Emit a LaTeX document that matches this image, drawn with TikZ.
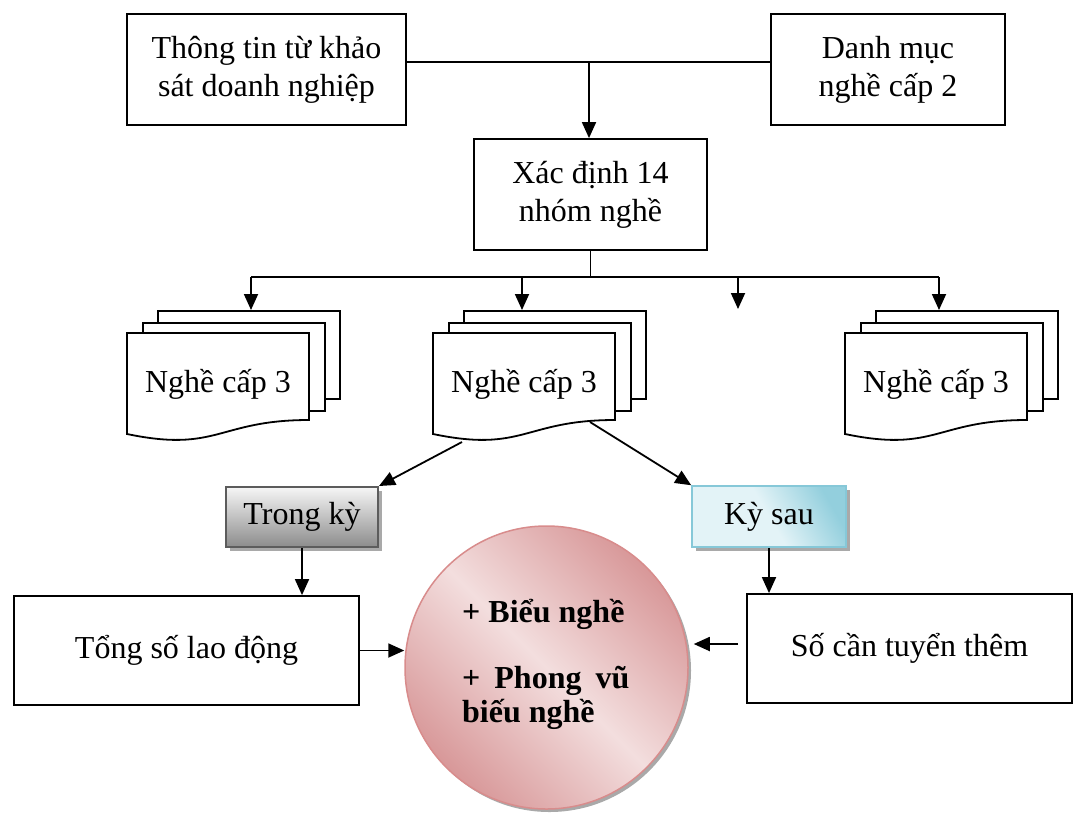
\documentclass[tikz,border=0pt]{standalone}
\usepackage{fontspec}
\setmainfont{Liberation Serif}
\usetikzlibrary{arrows.meta,calc,shadows}

\definecolor{grayedge}{HTML}{5C5C5C}
\definecolor{graytop}{HTML}{F6F6F6}
\definecolor{graybot}{HTML}{8C8C8C}
\definecolor{blueedge}{HTML}{86C8D8}
\definecolor{bluedark}{HTML}{93CFDD}
\definecolor{bluelight}{HTML}{E3F3F7}
\definecolor{roseedge}{HTML}{D88C8C}
\definecolor{rosedark}{HTML}{D89899}
\definecolor{roselight}{HTML}{F3DEDE}
\definecolor{shadowgray}{HTML}{A9A9A9}

\begin{document}
\begin{tikzpicture}[x=1pt,y=-1pt,
  every node/.style={font=\fontsize{32}{38}\selectfont},
  box/.style={draw, line width=1.8pt, inner sep=0pt, align=center},
  conn/.style={line width=1.8pt},
  arr/.style={conn, -{Triangle[length=16pt,width=14pt]}},
  page/.style={draw, fill=white, line width=1.8pt, minimum width=182pt,
    minimum height=88pt, inner sep=0pt, anchor=north west},
  tag/.style={inner sep=0pt, drop shadow={shadow xshift=4pt, shadow yshift=-4pt,
    fill=shadowgray, opacity=1}},
  bullet/.style={anchor=base west, inner sep=0pt,
    font=\fontsize{32}{38}\selectfont\bfseries},
]
\useasboundingbox (0,0) rectangle (1083,812);

% top row and the grouping box
\node[box, minimum width=279pt, minimum height=111pt] (src) at (266.5,69.5)
  {Thông tin từ khảo\\sát doanh nghiệp};
\node[box, minimum width=234pt, minimum height=111pt] (cat) at (888,69.5)
  {Danh mục\\nghề cấp 2};
\node[box, minimum width=233pt, minimum height=111pt] (grp) at (590.5,194.5)
  {Xác định 14\\nhóm nghề};

\coordinate (j1) at (589,62);
\draw[conn] (src.east |- j1) -- (cat.west |- j1);
\draw[arr] (j1) -- (j1 |- grp.north);

% branch bar
\coordinate (j2) at (590,277);
\coordinate (b1) at (251,277);
\coordinate (b2) at (522,277);
\coordinate (b3) at (738,277);
\coordinate (b4) at (939,277);
\coordinate (e3) at (738,309);
\draw[conn] (grp.south) -- (grp.south |- j2);
\draw[conn] (b1) -- (b4);

% stacked documents
\foreach \n/\x in {L/127, M/433, R/845}{
  \node[page] (\n-back) at (\x+30,310) {};
  \node[page] (\n-mid) at (\x+15,322) {};
  \draw[line width=1.8pt, fill=white] (\x,333) -- (\x+182,333) -- (\x+182,420)
    .. controls (\x+91,420) and (\x+91,453) .. (\x,434) -- cycle;
  \node[anchor=base, inner sep=0pt] (\n-front) at (\x+91,392) {Nghề cấp 3};
}

\draw[arr] (b1) -- (b1 |- L-back.north);
\draw[arr] (b2) -- (b2 |- M-back.north);
\draw[arr] (b3) -- (e3);
\draw[arr] (b4) -- (b4 |- R-back.north);

% period tags
\node[tag, draw=grayedge, line width=2pt, top color=graytop, bottom color=graybot,
  minimum width=152pt, minimum height=60pt] (now) at (302,517) {Trong kỳ};
\node[tag, draw=blueedge, line width=1.5pt, top color=bluedark, bottom color=bluelight,
  middle color=bluelight, shading angle=-60,
  minimum width=154pt, minimum height=61pt] (next) at (769,516.5) {Kỳ sau};

\coordinate (ml) at (462,442);
\coordinate (mr) at (590,422);
\draw[arr] (ml) -- (now.north east);
\draw[arr] (mr) -- (next.north west);

% totals
\node[box, minimum width=345pt, minimum height=109pt] (total) at (186.5,650.5)
  {Tổng số lao động};
\node[box, minimum width=325pt, minimum height=109pt] (hire) at (909.5,648.5)
  {Số cần tuyển thêm};

\draw[arr] (now.south) -- (now.south |- total.north);
\draw[arr] (next.south) -- (next.south |- hire.north);

% result circle
\node[circle, draw=roseedge, line width=1.5pt, minimum size=283pt, inner sep=0pt,
  top color=rosedark, bottom color=rosedark, middle color=roselight,
  shading angle=-45,
  drop shadow={shadow xshift=3pt, shadow yshift=-3pt, fill=shadowgray, opacity=1}]
  (res) at (546.5,667.5) {};
\node[bullet] (r1) at (462,622) {+ Biểu nghề};
\node[bullet] (r2) at (462,688) {+\hspace{14pt}Phong\hspace{14pt}vũ};
\node[bullet] (r3) at (462,722) {biếu nghề};

\coordinate (q) at (738,644);
\draw[arr] (total.east) -- (total.east -| res.west);
\draw[arr] (q) -- ($(q -| res.east)+(5,0)$);
\end{tikzpicture}
\end{document}
